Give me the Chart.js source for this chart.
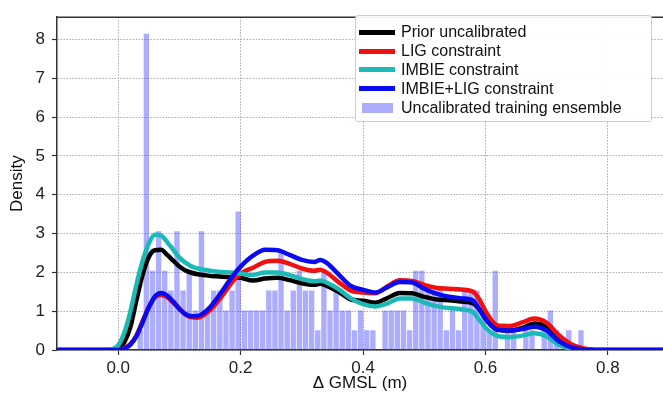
<!DOCTYPE html>
<html>
<head>
<meta charset="utf-8">
<script src="https://cdn.jsdelivr.net/npm/chart.js@4.4.1/dist/chart.umd.min.js"></script>
<style>
  body { margin: 0; background: #fff; }
  #wrap { position: relative; width: 663px; height: 400px; }
  #legend {
    position: absolute; left: 355px; top: 15px; width: 297px; height: 107px;
    border: 1px solid #cfcfcf; border-radius: 3px; background: rgba(255,255,255,0.92);
    font-family: "Liberation Sans", Arial, sans-serif; font-size: 16px; color: #111;
    box-sizing: border-box; padding-top: 7px;
  }
  .row { height: 18.8px; display: flex; align-items: center; }
  .swatch { width: 36px; margin-left: 3px; margin-right: 6px; }
</style>
</head>
<body>
<div id="wrap">
  <canvas id="gmsl-chart" width="663" height="400"></canvas>
  <div id="legend"></div>
</div>
<script>
// histogram: uncalibrated training ensemble (density per 0.01 m bin)
const histFirstEdge = 0.031;
const histBinWidth = 0.01;
const histDensity = [
  0.51, 8.15, 2.04, 3.06, 2.04, 1.53, 3.06, 1.53, 2.04, 1.02,
  3.06, 1.02, 1.53, 1.53, 1.02, 1.53, 3.57, 1.02, 1.02, 1.02,
  1.02, 1.53, 1.53, 2.55, 1.02, 1.53, 2.04, 1.53, 1.53, 0.51,
  2.04, 1.02, 1.53, 1.02, 1.02, 0.51, 1.02, 0.51, 0.51, 0,
  1.02, 1.02, 1.02, 1.02, 0.51, 2.04, 2.04, 1.53, 1.53, 1.53,
  0.51, 1.02, 0.51, 1.53, 1.53, 1.53, 1.02, 0.51, 2.04, 0,
  0.51, 0.51, 0, 0.51, 0.51, 0, 0.51, 1.02, 0.51, 0,
  0.51, 0, 0.51
];

const curveX = [
  -0.1, -0.02, -0.01, 0.0, 0.01, 0.02, 0.03, 0.04, 0.05, 0.06,
  0.07, 0.08, 0.09, 0.10, 0.11, 0.12, 0.13, 0.14, 0.15, 0.16,
  0.17, 0.18, 0.19, 0.20, 0.22, 0.24, 0.26, 0.28, 0.30, 0.32,
  0.33, 0.34, 0.36, 0.38, 0.40, 0.42, 0.44, 0.46, 0.48, 0.50,
  0.52, 0.54, 0.56, 0.58, 0.59, 0.60, 0.61, 0.62, 0.64, 0.66,
  0.68, 0.70, 0.72, 0.74, 0.76, 0.78, 0.80, 0.89
];
const priorY = [
  0, 0, 0, 0.03, 0.2, 0.6, 1.3, 1.95, 2.4, 2.57,
  2.58, 2.45, 2.3, 2.15, 2.05, 1.99, 1.95, 1.93, 1.91, 1.9,
  1.89, 1.88, 1.87, 1.86, 1.79, 1.84, 1.86, 1.8, 1.72, 1.68,
  1.71, 1.66, 1.5, 1.3, 1.27, 1.22, 1.34, 1.47, 1.46, 1.37,
  1.3, 1.28, 1.25, 1.2, 1.05, 0.82, 0.62, 0.52, 0.5, 0.57,
  0.68, 0.59, 0.3, 0.12, 0.03, 0, 0, 0
];
const ligY = [
  0, 0, 0, 0, 0.05, 0.15, 0.38, 0.75, 1.1, 1.36,
  1.42, 1.36, 1.22, 1.06, 0.92, 0.84, 0.83, 0.9, 1.03, 1.2,
  1.4, 1.62, 1.82, 1.97, 2.12, 2.27, 2.3, 2.22, 2.1, 2.04,
  2.07, 2.0, 1.75, 1.53, 1.48, 1.46, 1.64, 1.8, 1.78, 1.68,
  1.6, 1.58, 1.56, 1.5, 1.3, 1.0, 0.76, 0.63, 0.62, 0.71,
  0.81, 0.7, 0.38, 0.15, 0.04, 0, 0, 0
];
const imbieY = [
  0, 0, 0.02, 0.12, 0.45, 1.0, 1.7, 2.3, 2.75, 2.97,
  2.95, 2.78, 2.58, 2.38, 2.25, 2.15, 2.1, 2.07, 2.04, 2.02,
  2.01, 2.0, 1.99, 1.97, 1.93, 2.0, 2.0, 1.93, 1.83, 1.77,
  1.79, 1.74, 1.57, 1.33, 1.18, 1.12, 1.2, 1.33, 1.33, 1.22,
  1.13, 1.08, 1.05, 0.97, 0.78, 0.58, 0.44, 0.36, 0.33, 0.37,
  0.43, 0.35, 0.13, 0.03, 0, 0, 0, 0
];
const imbieLigY = [
  0, 0, 0, 0, 0.04, 0.14, 0.36, 0.72, 1.1, 1.38,
  1.47, 1.4, 1.24, 1.06, 0.92, 0.87, 0.88, 0.96, 1.1, 1.3,
  1.52, 1.75, 1.97, 2.15, 2.43, 2.58, 2.57, 2.45, 2.32, 2.27,
  2.32, 2.25, 1.95, 1.65, 1.55, 1.48, 1.62, 1.75, 1.74, 1.58,
  1.45, 1.37, 1.33, 1.27, 1.05, 0.8, 0.62, 0.52, 0.5, 0.54,
  0.6, 0.5, 0.22, 0.07, 0.01, 0, 0, 0
];

const xTicks = [0.0, 0.2, 0.4, 0.6, 0.8];
const yTicks = [0, 1, 2, 3, 4, 5, 6, 7, 8];

const lineNames = ["Prior uncalibrated", "LIG constraint", "IMBIE constraint", "IMBIE+LIG constraint"];
const histName = "Uncalibrated training ensemble";
const lineColors = ["#000000", "#f01010", "#1cbab6", "#0a0af0"];
const histColor = "rgba(60, 60, 250, 0.42)";

const fontFamily = "'Liberation Sans', Arial, sans-serif";

function toPoints(xs, ys) {
  return xs.map((x, i) => ({ x: x, y: ys[i] }));
}

const histPoints = histDensity.map((d, i) => ({
  x: histFirstEdge + histBinWidth * (i + 0.5),
  y: d,
}));

const lineSeries = [priorY, ligY, imbieY, imbieLigY];
const lineDatasets = lineSeries.map((ys, i) => ({
  type: "line",
  label: lineNames[i],
  data: toPoints(curveX, ys),
  borderColor: lineColors[i],
  backgroundColor: lineColors[i],
  borderWidth: 4.5,
  pointRadius: 0,
  fill: false,
  cubicInterpolationMode: "monotone",
  order: 4 - i,
}));

const frame = {
  id: "frame",
  afterDraw(chart) {
    const { ctx, chartArea } = chart;
    ctx.save();
    ctx.strokeStyle = "#333";
    ctx.lineWidth = 1.5;
    ctx.beginPath();
    ctx.moveTo(chartArea.left, chartArea.top);
    ctx.lineTo(chartArea.right, chartArea.top);
    ctx.stroke();
    ctx.restore();
  },
};

const ctx = document.getElementById("gmsl-chart").getContext("2d");
const myChart = new Chart(ctx, {
  type: "bar",
  data: {
    datasets: lineDatasets.concat([
      {
        type: "bar",
        label: histName,
        data: histPoints,
        backgroundColor: histColor,
        borderWidth: 0,
        barPercentage: 1.0,
        categoryPercentage: 0.88,
        order: 10,
      },
    ]),
  },
  options: {
    responsive: false,
    animation: false,
    layout: { padding: { top: 7, left: 0, right: 0, bottom: 0 } },
    plugins: {
      legend: { display: false },
      tooltip: { enabled: false },
    },
    scales: {
      x: {
        type: "linear",
        min: -0.1,
        max: 0.89,
        offset: false,
        afterBuildTicks: (s) => { s.ticks = xTicks.map((v) => ({ value: v })); },
        afterFit: (s) => { s.height = 50; },
        ticks: {
          callback: (v) => v.toFixed(1),
          font: { family: fontFamily, size: 17 },
          color: "#222",
          padding: 3,
          maxRotation: 0,
        },
        grid: {
          color: "#a0a0a0",
          lineWidth: 0.9,
          offset: false,
          tickColor: "#333",
          tickLength: 5,
          tickWidth: 1.2,
        },
        border: { color: "#333", width: 1.5, dash: [1.5, 1.5] },
        title: {
          display: true,
          text: "Δ GMSL (m)",
          font: { family: fontFamily, size: 17 },
          color: "#111",
          padding: { top: 0, bottom: 6 },
        },
      },
      y: {
        min: 0,
        max: 8.575,
        afterBuildTicks: (s) => { s.ticks = yTicks.map((v) => ({ value: v })); },
        afterFit: (s) => { s.width = 57; },
        ticks: {
          font: { family: fontFamily, size: 17 },
          color: "#222",
          padding: 7,
        },
        grid: {
          color: "#a0a0a0",
          lineWidth: 0.9,
          tickColor: "#333",
          tickLength: 5,
          tickWidth: 1.2,
        },
        border: { color: "#333", width: 1.5, dash: [1.5, 1.5] },
        title: {
          display: true,
          text: "Density",
          font: { family: fontFamily, size: 17 },
          color: "#111",
          padding: { top: 7, bottom: 0 },
        },
      },
    },
  },
  plugins: [frame],
});

// legend box drawn as HTML over the plot
const legend = document.getElementById("legend");
lineNames.forEach((name, i) => {
  const row = document.createElement("div");
  row.className = "row";
  row.innerHTML = '<span class="swatch" style="height:5px;background:' + lineColors[i] + '"></span>' + name;
  legend.appendChild(row);
});
const histRow = document.createElement("div");
histRow.className = "row";
histRow.innerHTML = '<span class="swatch" style="height:10px;width:31px;margin-left:6px;margin-right:8px;background:' + histColor + '"></span>' + histName;
legend.appendChild(histRow);
</script>
</body>
</html>
